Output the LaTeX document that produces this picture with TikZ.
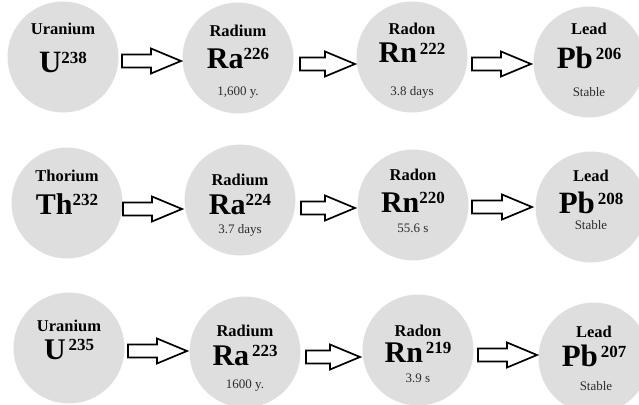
\documentclass[tikz,border=0pt]{standalone}
\usepackage{fontspec}
\setmainfont{Liberation Serif}
\usetikzlibrary{calc}
\definecolor{discfill}{RGB}{222,222,222}
\definecolor{subgray}{RGB}{45,45,45}
\newcommand{\iso}[3]{{\fontsize{#3}{#3}\selectfont #1}\raisebox{\fpeval{0.66*#3-11.5}pt}{\fontsize{17}{17}\selectfont #2}}
\tikzset{
  disc/.style={circle, fill=discfill, minimum size=111pt, inner sep=0pt},
  elname/.style={anchor=base, font=\fontsize{16.5}{17}\selectfont\bfseries, inner sep=0pt},
  elsym/.style={anchor=base, font=\bfseries, inner sep=0pt},
  halflife/.style={anchor=base, font=\fontsize{13}{13}\selectfont, text=subgray, inner sep=0pt},
  blockarrow/.style={draw=black, fill=white, line width=1.7pt, line join=miter,
    to path={let \p1=(\tikztostart), \p2=(\tikztotarget) in
      (\x1,\y1+6.5pt) -- (\x2-30pt,\y1+6.5pt) -- (\x2-30pt,\y1+12.5pt) -- (\x2,\y1)
      -- (\x2-30pt,\y1-12.5pt) -- (\x2-30pt,\y1-6.5pt) -- (\x1,\y1-6.5pt) -- cycle}}
}
\begin{document}
\begin{tikzpicture}[x=1pt,y=-1pt]
\useasboundingbox (0,0) rectangle (639,404);
% ---------- row 1 ----------
\node[disc] (u238) at (63,57) {};
\node[elname] (u238n) at (63,35) {Uranium};
\node[elsym] (u238s) at (63,72) {\iso{U}{238}{31}};

\node[disc] (ra226) at (238,58) {};
\node[elname] (ra226n) at (238,37) {Radium};
\node[elsym] (ra226s) at (238,68) {\iso{Ra}{226}{30}};
\node[halflife] (ra226h) at (238,95) {1,600 y.};

\node[disc] (rn222) at (412,57) {};
\node[elname] (rn222n) at (412,35) {Radon};
\node[elsym] (rn222s) at (412,63) {\iso{Rn}{\,222}{30}};
\node[halflife] (rn222h) at (412,95) {3.8 days};

\node[disc] (pb206) at (589,62) {};
\node[elname] (pb206n) at (589,35) {Lead};
\node[elsym] (pb206s) at (589,68) {\iso{Pb}{\,206}{31}};
\node[halflife] (pb206h) at (589,96) {Stable};

\coordinate (a11s) at (122,61); \coordinate (a11e) at (181,61);
\coordinate (a12s) at (300,64); \coordinate (a12e) at (355,64);
\coordinate (a13s) at (472,64); \coordinate (a13e) at (531,64);
\draw[blockarrow] (a11s) to (a11e);
\draw[blockarrow] (a12s) to (a12e);
\draw[blockarrow] (a13s) to (a13e);

% ---------- row 2 ----------
\node[disc] (th232) at (67,203) {};
\node[elname] (th232n) at (67,181) {Thorium};
\node[elsym] (th232s) at (67,214) {\iso{Th}{232}{30}};

\node[disc] (ra224) at (240,200) {};
\node[elname] (ra224n) at (240,185) {Radium};
\node[elsym] (ra224s) at (240,214) {\iso{Ra}{224}{30}};
\node[halflife] (ra224h) at (240,233) {3.7 days};

\node[disc] (rn220) at (413,205) {};
\node[elname] (rn220n) at (413,180) {Radon};
\node[elsym] (rn220s) at (413,212) {\iso{Rn}{220}{30}};
\node[halflife] (rn220h) at (413,232) {55.6 s};

\node[disc] (pb208) at (591,207) {};
\node[elname] (pb208n) at (591,181) {Lead};
\node[elsym] (pb208s) at (591,213) {\iso{Pb}{\,208}{31}};
\node[halflife] (pb208h) at (591,229) {Stable};

\coordinate (a21s) at (123,209); \coordinate (a21e) at (182,209);
\coordinate (a22s) at (301,208); \coordinate (a22e) at (355,208);
\coordinate (a23s) at (472,207); \coordinate (a23e) at (532,207);
\draw[blockarrow] (a21s) to (a21e);
\draw[blockarrow] (a22s) to (a22e);
\draw[blockarrow] (a23s) to (a23e);

% ---------- row 3 ----------
\node[disc] (u235) at (69,348) {};
\node[elname] (u235n) at (69,331) {Uranium};
\node[elsym] (u235s) at (69,359) {\iso{U}{\,235}{30}};

\node[disc] (ra223) at (245,352) {};
\node[elname] (ra223n) at (245,336) {Radium};
\node[elsym] (ra223s) at (245,365) {\iso{Ra}{\,223}{30}};
\node[halflife] (ra223h) at (245,388) {1600 y.};

\node[disc] (rn219) at (418,350) {};
\node[elname] (rn219n) at (418,336) {Radon};
\node[elsym] (rn219s) at (418,362) {\iso{Rn}{\,219}{30}};
\node[halflife] (rn219h) at (418,382) {3.9 s};

\node[disc] (pb207) at (594,358) {};
\node[elname] (pb207n) at (594,337) {Lead};
\node[elsym] (pb207s) at (594,366) {\iso{Pb}{\,207}{31}};
\node[halflife] (pb207h) at (596,390) {Stable};

\coordinate (a31s) at (128,351); \coordinate (a31e) at (187,351);
\coordinate (a32s) at (306,357); \coordinate (a32e) at (360,357);
\coordinate (a33s) at (478,355); \coordinate (a33e) at (537,355);
\draw[blockarrow] (a31s) to (a31e);
\draw[blockarrow] (a32s) to (a32e);
\draw[blockarrow] (a33s) to (a33e);
\end{tikzpicture}
\end{document}
